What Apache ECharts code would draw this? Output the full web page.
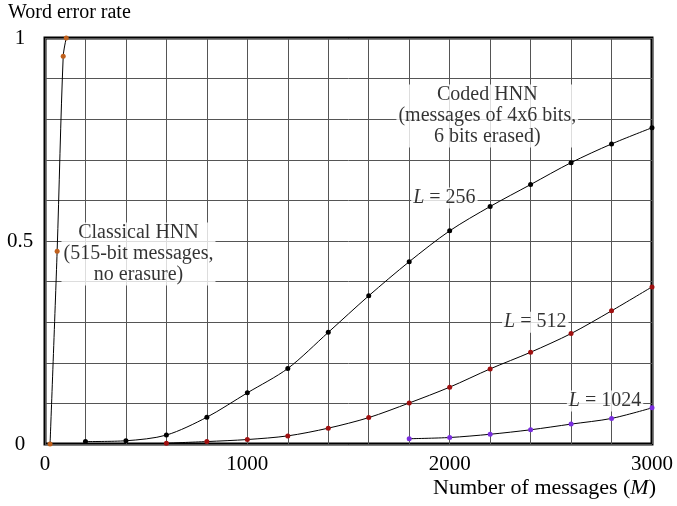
<!DOCTYPE html>
<html>
<head>
<meta charset="utf-8">
<script src="https://cdn.jsdelivr.net/npm/echarts@6/dist/echarts.min.js"></script>
<style>
  html, body { margin: 0; padding: 0; background: #fff; }
  #chart { width: 677px; height: 506px; }
</style>
</head>
<body>
<div id="chart"></div>
<script>
// data
const classicalX = [25, 60, 90, 105]
const classicalY = [0, 0.475, 0.955, 1.0]

const codedX = [200, 400, 600, 800, 1000, 1200, 1400, 1600, 1800, 2000, 2200, 2400, 2600, 2800, 3000]
const l256Y = [0.006, 0.008, 0.022, 0.066, 0.126, 0.186, 0.275, 0.365, 0.449, 0.525, 0.585, 0.639, 0.693, 0.739, 0.779]

const l512X = [600, 800, 1000, 1200, 1400, 1600, 1800, 2000, 2200, 2400, 2600, 2800, 3000]
const l512Y = [0.002, 0.006, 0.011, 0.02, 0.039, 0.065, 0.101, 0.14, 0.185, 0.226, 0.272, 0.328, 0.387]

const l1024X = [1800, 2000, 2200, 2400, 2600, 2800, 3000]
const l1024Y = [0.013, 0.016, 0.024, 0.035, 0.049, 0.063, 0.089]

const xTicks = [0, 1000, 2000, 3000]
const yTicks = [0, 0.5, 1]

// annotations: text + anchor in data units
const notes = [
  {text: 'Classical HNN\n(515-bit messages,\nno erasure)', at: [462, 0.468]},
  {text: 'Coded HNN\n(messages of 4x6 bits,\n6 bits erased)', at: [2186, 0.808]},
  {text: '{i|L} = 256', at: [1974, 0.606]},
  {text: '{i|L} = 512', at: [2423, 0.30]},
  {text: '{i|L} = 1024', at: [2768, 0.106]}
]

const serif = 'Liberation Serif'
const zip = (xs, ys) => xs.map((x, i) => [x, ys[i]])

const chart = echarts.init(document.getElementById('chart'))

function lineSeries(name, xs, ys, dot){
  return {
    name: name,
    type: 'line',
    data: zip(xs, ys),
    smooth: 0.3,
    symbol: 'circle',
    symbolSize: 5,
    lineStyle: {color: '#000', width: 1},
    itemStyle: {color: dot, borderWidth: 0},
    z: 3
  }
}

const option = {
  animation: false,
  backgroundColor: '#fff',
  textStyle: {fontFamily: serif},
  grid: {left: 45, right: 25, top: 38, bottom: 62, show: true, borderColor: '#000', borderWidth: 3, backgroundColor: 'transparent'},
  graphic: [{
    type: 'text', left: 8, top: 3,
    style: {text: 'Word error rate', font: '20px "Liberation Serif"', fill: '#000'}
  }],
  xAxis: {
    type: 'value', min: 0, max: 3000, interval: 200,
    name: 'Number of messages ({i|M})',
    nameLocation: 'end', nameGap: 4,
    nameTextStyle: {fontFamily: serif, fontSize: 22, color: '#000', align: 'right', verticalAlign: 'top', padding: [33, 0, 0, 0],
      rich: {i: {fontFamily: serif, fontSize: 22, fontStyle: 'italic', color: '#000'}}},
    axisLine: {show: false},
    axisTick: {show: false},
    axisLabel: {
      color: '#000', fontFamily: serif, fontSize: 21, margin: 10,
      formatter: v => xTicks.includes(v) ? String(v) : ''
    },
    splitLine: {show: true, lineStyle: {color: '#555', width: 1}}
  },
  yAxis: {
    type: 'value', min: 0, max: 1, interval: 0.1,
    axisLine: {show: false},
    axisTick: {show: false},
    axisLabel: {
      color: '#000', fontFamily: serif, fontSize: 21, margin: 25, align: 'center',
      formatter: v => {
        const t = yTicks.find(k => Math.abs(k - v) < 1e-6)
        return t === undefined ? '' : String(t)
      }
    },
    splitLine: {show: true, lineStyle: {color: '#555', width: 1}}
  },
  series: [
    lineSeries('Classical HNN', classicalX, classicalY, '#c0601c'),
    lineSeries('L = 256', codedX, l256Y, '#000'),
    lineSeries('L = 512', l512X, l512Y, '#a01010'),
    lineSeries('L = 1024', l1024X, l1024Y, '#7a2ee0'),
    {
      name: 'notes',
      type: 'scatter',
      symbolSize: 0,
      silent: true,
      z: 2,
      data: notes.map(n => ({value: n.at, label: {formatter: n.text}})),
      label: {
        show: true, position: 'inside',
        fontFamily: serif, fontSize: 20, lineHeight: 21, color: '#000',
        align: 'center', verticalAlign: 'middle',
        backgroundColor: '#fff', padding: [0, 2],
        rich: {i: {fontFamily: serif, fontSize: 20, fontStyle: 'italic', color: '#000'}}
      }
    }
  ]
}

chart.setOption(option)
window.addEventListener('resize', () => chart.resize())
</script>
</body>
</html>
